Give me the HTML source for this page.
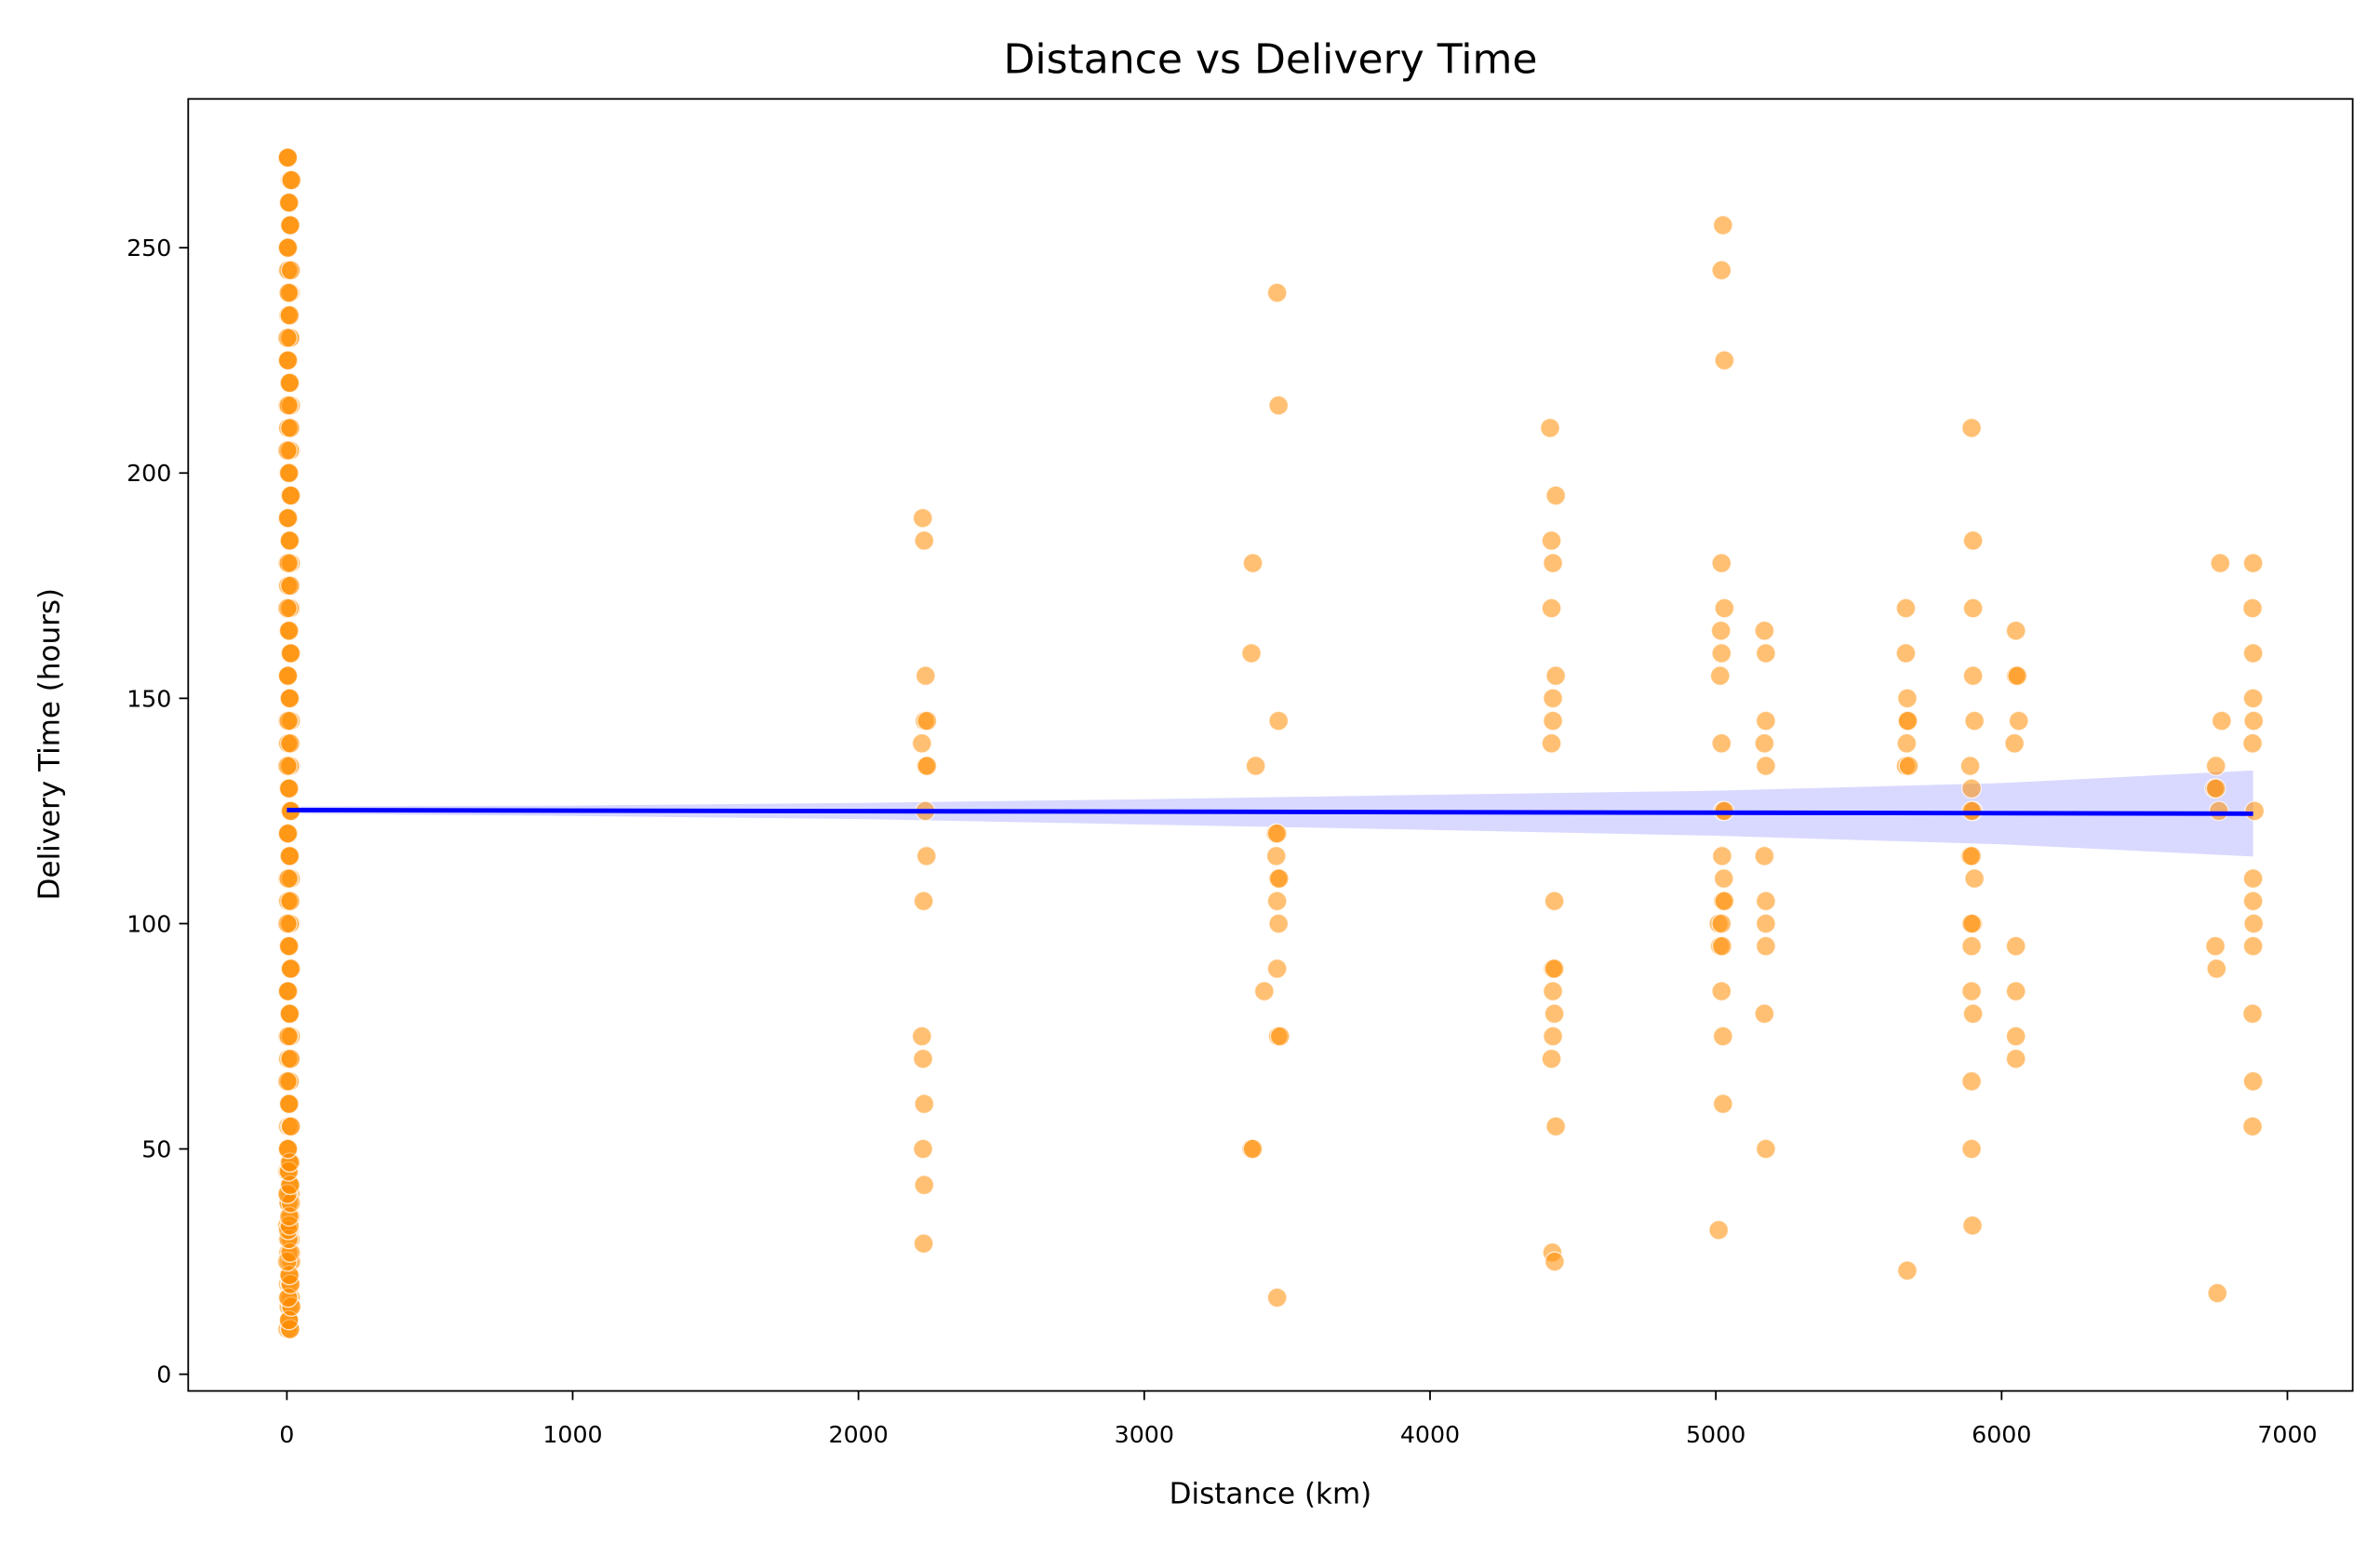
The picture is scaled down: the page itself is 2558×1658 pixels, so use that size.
<!DOCTYPE html>
<html><head><meta charset="utf-8"><style>
html,body{margin:0;padding:0;background:#fff;}
svg{display:block;font-family:"DejaVu Sans","Liberation Sans",sans-serif;}
</style></head><body>
<svg id="chart" width="2558" height="1658" viewBox="0 0 1568 1016" xmlns="http://www.w3.org/2000/svg">
<rect width="1568" height="1016" fill="#fff"/>
<g id="band"></g><g id="pts"></g><g id="line"></g>
<rect x="124" y="65" width="1426" height="851" fill="none" stroke="#000" stroke-width="1.1"/>
<g id="xt"></g><g id="yt"></g>
<text x="837" y="48" font-size="27" text-anchor="middle">Distance vs Delivery Time</text>
<text x="837" y="990" font-size="19" text-anchor="middle">Distance (km)</text>
<text transform="translate(39,490) rotate(-90)" font-size="19" text-anchor="middle">Delivery Time (hours)</text>
</svg>
<script>
const xTicks=[0,1000,2000,3000,4000,5000,6000,7000];
const yTicks=[0,50,100,150,200,250];
const clusterY=[10,12,15,17,20,22,25,27,30,32,33,35,38,40,42,45,47,50,55,60,65,70,75,80,85,90,95,100,105,110,115,120,125,130,135,140,145,150,155,160,165,170,175,180,185,190,195,200,205,210,215,220,225,230,235,240,245,250,255,260,265,270];
const clusterX=[2,10,6,14,4,12,8,16,3,11,7,15,5,13,9,1,12,6,4,10,8,14,2,12,6,10,4,14,8,2,12,6,10,4,14,8,2,12,6,10,4,14,8,2,12,6,10,4,14,8,2,12,6,10,4,14,8,2,12,6,10,4];
const farX=[2225,2230,2235,2232,2240,2222,2236,2240,2234,2238,2228,2222,2226,2230,2226,2230,2228,
3380,3375,3390,3375,3420,3465,3470,3470,3460,3465,3462,3468,3472,3465,3470,3465,3468,3475,3380,3465,
4420,4440,4425,4430,4425,4440,4430,4430,4425,4435,4430,4435,4430,4435,4430,4425,4440,4428,4436,
5025,5020,5030,5020,5030,5018,5020,5015,5020,5025,5030,5022,5028,5025,5030,5010,5020,5015,5022,5020,5025,5025,5010,
5170,5175,5175,5170,5175,5170,5175,5175,5175,5170,5175,
5665,5665,5670,5670,5672,5668,5665,5675,5670,
5895,5900,5900,5900,5905,5890,5895,5900,5895,5890,5895,5905,5900,5895,5895,5895,5900,5895,5895,5898,
6050,6050,6055,6060,6045,6050,6050,6050,6050,
6750,6745,6750,6760,6748,6752,6755,6765,6770,
6880,6878,6880,6880,6882,6878,6885,6880,6880,6882,6880,6878,6880,6878];
const farY=[190,185,155,145,145,140,135,135,125,115,105,75,70,60,50,42,29,
180,160,135,50,85,240,215,145,120,120,115,110,110,105,100,90,75,75,50,17,
210,195,185,180,170,155,150,145,140,105,90,90,85,80,75,70,55,27,25,
255,245,225,180,170,165,160,155,140,125,125,115,110,105,105,100,100,95,95,85,75,60,32,
165,160,145,140,135,115,105,100,95,80,50,
170,160,150,145,145,140,135,135,23,
210,185,170,155,145,135,130,125,125,115,115,110,100,100,95,85,80,65,50,33,
165,155,155,145,140,95,85,75,70,
135,130,130,125,95,90,18,180,145,
180,170,160,150,145,140,125,110,105,100,95,80,65,55];
const fitX=[0,6880];
const fitY=[125.2,124.4];
const ciX=[0,1000,2000,3000,4000,5000,6000,6880];
const ciLo=[124.4,123.9,123.2,122.0,120.8,119.5,117.6,114.9];
const ciHi=[126.0,126.2,126.8,127.6,128.6,129.5,131.2,134.0];
const NS="http://www.w3.org/2000/svg";
const sx=v=>189+v*(1507-189)/7000;
const sy=v=>905-v*(905-163)/250;
function mk(t,a,p){const e=document.createElementNS(NS,t);for(const k in a)e.setAttribute(k,a[k]);p.appendChild(e);return e;}
const xt=document.getElementById('xt'),yt=document.getElementById('yt');
xTicks.forEach(v=>{const g=mk('g',{},xt);


mk('line',{x1:sx(v),x2:sx(v),y1:916,y2:922,stroke:'#000','stroke-width':1.1},g);
const t=mk('text',{x:sx(v),y:950,'font-size':15.5,'text-anchor':'middle'},g);t.textContent=v;});
yTicks.forEach(v=>{const g=mk('g',{},yt);


mk('line',{x1:118,x2:124,y1:sy(v),y2:sy(v),stroke:'#000','stroke-width':1.1},g);
const t=mk('text',{x:113,y:sy(v)+5.5,'font-size':15.5,'text-anchor':'end'},g);t.textContent=v;});
const pts=document.getElementById('pts');
function dot(x,y){const c=mk('circle',{cx:sx(x),cy:sy(y),r:6.3,fill:'#ff8c00','fill-opacity':0.55,stroke:'#fff','stroke-opacity':0.7,'stroke-width':0.8},pts);

}
clusterY.forEach((y,i)=>dot(clusterX[i],y));
clusterY.forEach((y,i)=>dot(clusterX[(i+5)%clusterX.length],y));
clusterY.forEach((y,i)=>dot(clusterX[(i+9)%clusterX.length],y));
farY.forEach((y,i)=>dot(farX[i],y));
let d='M'+ciX.map((x,i)=>sx(x)+','+sy(ciHi[i])).join('L');
for(let i=ciX.length-1;i>=0;i--)d+='L'+sx(ciX[i])+','+sy(ciLo[i]);
const b=mk('path',{d:d+'Z',fill:'#0000ff','fill-opacity':0.15},document.getElementById('band'));


const l=mk('line',{x1:sx(fitX[0]),y1:sy(fitY[0]),x2:sx(fitX[1]),y2:sy(fitY[1]),stroke:'#0000ff','stroke-width':3},document.getElementById('line'));


</script>
</body></html>
